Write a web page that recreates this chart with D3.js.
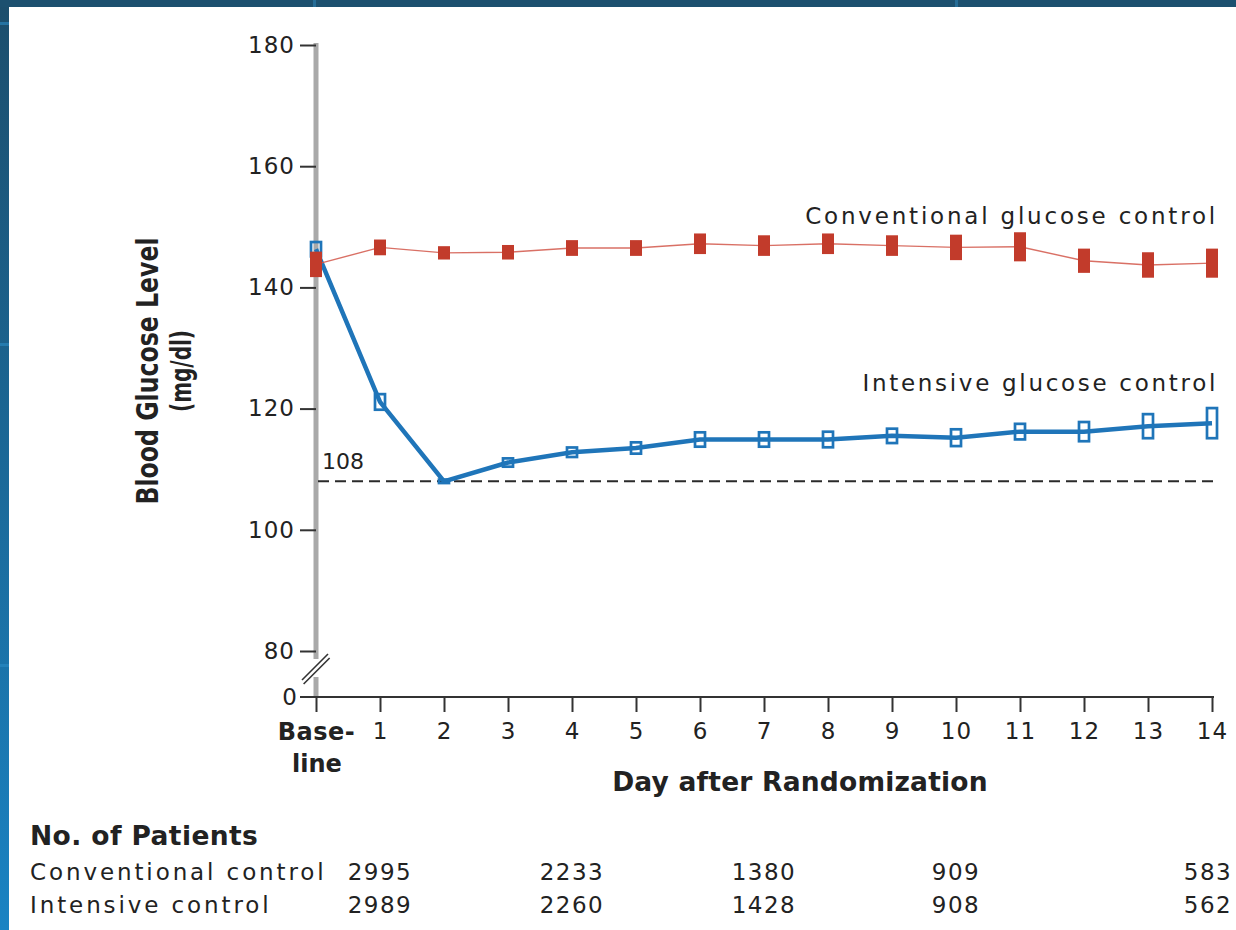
<!DOCTYPE html>
<html>
<head>
<meta charset="utf-8">
<script src="https://cdn.jsdelivr.net/npm/d3@7"></script>
<style>
  body { margin: 0; background: #1b5a80; }
  svg { display: block; }
  text { font-family: "DejaVu Sans", sans-serif; fill: #222; }
</style>
</head>
<body>
<svg id="chart" width="1236" height="930"></svg>
<script>
const days = [0, 1, 2, 3, 4, 5, 6, 7, 8, 9, 10, 11, 12, 13, 14];
const dayLabels = ['Base-', '1', '2', '3', '4', '5', '6', '7', '8', '9', '10', '11', '12', '13', '14'];
const yTicks = [80, 100, 120, 140, 160, 180];

// mean and half-width of the bar, mg/dl
const conventional = [143.8, 146.6, 145.7, 145.8, 146.5, 146.5, 147.2, 146.9, 147.2, 146.9, 146.6, 146.7, 144.4, 143.7, 144.0];
const conventionalCI = [2.1, 1.3, 1.1, 1.2, 1.3, 1.3, 1.7, 1.7, 1.7, 1.7, 2.1, 2.4, 2.0, 2.1, 2.4];
const intensive = [146.3, 121.1, 108.0, 111.1, 112.8, 113.5, 114.9, 114.9, 114.9, 115.5, 115.2, 116.2, 116.2, 117.1, 117.6];
const intensiveCI = [1.4, 1.5, 0.5, 0.9, 1.0, 1.15, 1.4, 1.4, 1.5, 1.4, 1.6, 1.5, 1.8, 2.2, 2.7];

const target = 108;

const patientRows = ['Conventional control', 'Intensive control'];
const patientDays = [1, 4, 7, 10, 14];
const patientsConventional = [2995, 2233, 1380, 909, 583];
const patientsIntensive = [2989, 2260, 1428, 908, 562];

const svg = d3.select('#chart');

// slide background
const defs = svg.append('defs');
const grad = defs.append('linearGradient').attr('id', 'bg').attr('x1', 0).attr('y1', 0).attr('x2', 0).attr('y2', 1);
grad.append('stop').attr('offset', '0%').attr('stop-color', '#1c4e6c');
grad.append('stop').attr('offset', '100%').attr('stop-color', '#1a83c3');
svg.append('rect').attr('width', 1236).attr('height', 930).attr('fill', 'url(#bg)');
svg.append('rect').attr('width', 1236).attr('height', 7).attr('fill', '#1c506f');
[22, 343, 664].forEach(y => svg.append('rect').attr('x', 0).attr('y', y).attr('width', 9).attr('height', 3).attr('fill', '#2b8cc4').attr('opacity', 0.6));
[313, 955].forEach(x => svg.append('rect').attr('x', x).attr('y', 0).attr('width', 3).attr('height', 7).attr('fill', '#2b7fb0').attr('opacity', 0.6));
svg.append('rect').attr('x', 9).attr('y', 7).attr('width', 1227).attr('height', 923).attr('fill', '#fff');

const x = d3.scaleLinear().domain([0, 14]).range([316, 1212]);
const y = d3.scaleLinear().domain([80, 180]).range([651, 45]);
const yZero = 697;

// y axis (gray bar with a break)
const g = svg.append('g');
g.append('line').attr('x1', 316).attr('x2', 316).attr('y1', y(180) - 2).attr('y2', yZero)
  .attr('stroke', '#a9a9a9').attr('stroke-width', 5);
g.append('rect').attr('x', 310).attr('y', 659).attr('width', 12).attr('height', 18).attr('fill', '#fff');
[0, 4].forEach(o => {
  g.append('line').attr('x1', 302 + o * 0.4).attr('y1', 680 + o).attr('x2', 328 + o * 0.4).attr('y2', 654 + o)
    .attr('stroke', '#333').attr('stroke-width', 1.6);
});

const yAxis = d3.axisLeft(y).tickValues(yTicks).tickSize(16).tickPadding(5).tickFormat(d3.format('d'));
const ya = g.append('g').attr('transform', 'translate(316,0)').call(yAxis);
ya.select('.domain').remove();
ya.selectAll('.tick line').attr('stroke', '#333').attr('stroke-width', 2);
ya.selectAll('.tick text').style('font-size', '23px').style('letter-spacing', '1px').attr('fill', '#222');

// zero tick below the break
g.append('line').attr('x1', 300).attr('x2', 316).attr('y1', yZero).attr('y2', yZero).attr('stroke', '#333').attr('stroke-width', 2);
g.append('text').attr('x', 297).attr('y', yZero).attr('dy', '0.35em').attr('text-anchor', 'end')
  .style('font-size', '23px').text('0');

// x axis
const xAxis = d3.axisBottom(x).tickValues(days).tickSize(15).tickPadding(11).tickFormat((d, i) => dayLabels[i]);
const xa = g.append('g').attr('transform', `translate(0,${yZero})`).call(xAxis);
xa.select('.domain').remove();
g.append('line').attr('x1', 300).attr('x2', 1214).attr('y1', yZero).attr('y2', yZero).attr('stroke', '#333').attr('stroke-width', 2);
xa.selectAll('.tick line').attr('stroke', '#333').attr('stroke-width', 2);
xa.selectAll('.tick text').style('font-size', '23px').style('letter-spacing', '1px').attr('fill', '#222');
xa.selectAll('.tick text').filter((d, i) => i === 0).style('font-weight', 'bold').style('font-size', '24px').style('letter-spacing', '0.5px');
g.append('text').attr('x', x(0) + 1).attr('y', 772).attr('text-anchor', 'middle')
  .style('font-size', '24px').style('font-weight', 'bold').text('line');

g.append('text').attr('x', 800).attr('y', 791).attr('text-anchor', 'middle')
  .style('font-size', '26.5px').style('font-weight', 'bold').style('letter-spacing', '0.2px').text('Day after Randomization');

// y label, squeezed to the narrow face of the original
g.append('text').attr('transform', 'translate(158,371) rotate(-90)').attr('text-anchor', 'middle')
  .attr('textLength', 267).attr('lengthAdjust', 'spacingAndGlyphs')
  .style('font-size', '30px').style('font-weight', 'bold').text('Blood Glucose Level');
g.append('text').attr('transform', 'translate(191,371) rotate(-90)').attr('text-anchor', 'middle')
  .attr('textLength', 82).attr('lengthAdjust', 'spacingAndGlyphs')
  .style('font-size', '28px').style('font-weight', 'bold').text('(mg/dl)');

// target line
g.append('line').attr('x1', 318).attr('x2', 1214).attr('y1', y(target)).attr('y2', y(target))
  .attr('stroke', '#2a2a2a').attr('stroke-width', 2).attr('stroke-dasharray', '11,6');
g.append('text').attr('x', 322).attr('y', y(target) - 12).style('font-size', '22px').text(String(target));

const line = d3.line().x((d, i) => x(days[i])).y(d => y(d));

// intensive series
g.append('path').datum(intensive).attr('d', line).attr('fill', 'none')
  .attr('stroke', '#1f75b9').attr('stroke-width', 4.5);
g.selectAll('.ibox').data(intensive).join('rect').attr('class', 'ibox')
  .attr('x', (d, i) => x(days[i]) - 5)
  .attr('y', (d, i) => y(d + intensiveCI[i]) + 1.3)
  .attr('width', 10)
  .attr('height', (d, i) => Math.max(3, y(d - intensiveCI[i]) - y(d + intensiveCI[i]) - 2.6))
  .attr('fill', 'none').attr('stroke', '#1f75b9').attr('stroke-width', 2.7);

// conventional series
g.append('path').datum(conventional).attr('d', line).attr('fill', 'none')
  .attr('stroke', '#d2574a').attr('stroke-width', 1.4).attr('opacity', 0.85);
g.selectAll('.cbox').data(conventional).join('rect').attr('class', 'cbox')
  .attr('x', (d, i) => x(days[i]) - 6)
  .attr('y', (d, i) => y(d + conventionalCI[i]))
  .attr('width', 12)
  .attr('height', (d, i) => y(d - conventionalCI[i]) - y(d + conventionalCI[i]))
  .attr('fill', '#c23b2b');

// series labels
g.append('text').attr('x', 1218).attr('y', 224).attr('text-anchor', 'end')
  .style('font-size', '23px').style('letter-spacing', '2.8px').text('Conventional glucose control');
g.append('text').attr('x', 1218).attr('y', 391).attr('text-anchor', 'end')
  .style('font-size', '23px').style('letter-spacing', '2.7px').text('Intensive glucose control');

// patients at risk
const t = svg.append('g');
t.append('text').attr('x', 30).attr('y', 845).style('font-size', '26.5px').style('font-weight', 'bold')
  .style('letter-spacing', '0.4px').text('No. of Patients');
[patientsConventional, patientsIntensive].forEach((row, r) => {
  const yy = 880 + r * 33;
  t.append('text').attr('x', 30).attr('y', yy).style('font-size', '23px').style('letter-spacing', '2.9px').text(patientRows[r]);
  t.selectAll(null).data(row).join('text')
    .attr('x', (d, i) => x(patientDays[i]) - (i === row.length - 1 ? 4 : 0))
    .attr('y', yy).attr('text-anchor', 'middle')
    .style('font-size', '23px').style('letter-spacing', '1.5px')
    .text(d => d);
});
</script>
</body>
</html>
